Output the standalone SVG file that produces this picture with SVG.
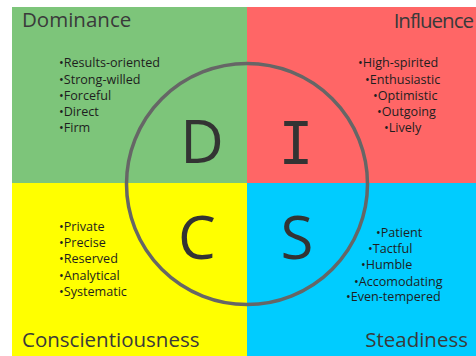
<svg xmlns="http://www.w3.org/2000/svg" width="476" height="356" viewBox="0 0 476 356">
  <style>
    .title { font-family: "Open Sans", "Noto Sans", "DejaVu Sans", sans-serif; font-size: 20.5px; fill: #3a3a3a; }
    .item { font-family: "Open Sans", "Noto Sans", "DejaVu Sans", sans-serif; font-size: 12.6px; fill: #1e1e1e; }
    .big { font-family: "Open Sans", "Noto Sans", "DejaVu Sans", sans-serif; font-size: 60px; fill: #333333; }
    .slab { font-family: "DejaVu Sans Mono", monospace; font-size: 58px; fill: #333333; }
  </style>
  <rect width="476" height="356" fill="#ffffff"/>

  <!-- Dominance quadrant -->
  <g id="dominance">
    <rect x="12" y="7" width="235" height="176" fill="#7dc57a"/>
    <text class="title" x="22" y="27">Dominance</text>
    <text class="item" x="59" y="67">•Results-oriented</text>
    <text class="item" x="59" y="83.5">•Strong-willed</text>
    <text class="item" x="59" y="100">•Forceful</text>
    <text class="item" x="59" y="116">•Direct</text>
    <text class="item" x="59" y="132">•Firm</text>
  </g>

  <!-- Influence quadrant -->
  <g id="influence">
    <rect x="247" y="7" width="229" height="176" fill="#ff6666"/>
    <text class="title" x="473" y="28" text-anchor="end" letter-spacing="-1">Influence</text>
    <text class="item" x="358" y="67">•High-spirited</text>
    <text class="item" x="365" y="83.5">•Enthusiastic</text>
    <text class="item" x="373" y="100">•Optimistic</text>
    <text class="item" x="377" y="116">•Outgoing</text>
    <text class="item" x="384" y="132">•Lively</text>
  </g>

  <!-- Conscientiousness quadrant -->
  <g id="conscientiousness">
    <rect x="12" y="183" width="235" height="173" fill="#ffff00"/>
    <text class="title" x="22" y="347">Conscientiousness</text>
    <text class="item" x="59" y="231">•Private</text>
    <text class="item" x="59" y="247">•Precise</text>
    <text class="item" x="59" y="263">•Reserved</text>
    <text class="item" x="59" y="279.5">•Analytical</text>
    <text class="item" x="59" y="295.5">•Systematic</text>
  </g>

  <!-- Steadiness quadrant -->
  <g id="steadiness">
    <rect x="247" y="183" width="229" height="173" fill="#00ccff"/>
    <text class="title" x="468" y="347" text-anchor="end">Steadiness</text>
    <text class="item" x="376" y="237">•Patient</text>
    <text class="item" x="368" y="253">•Tactful</text>
    <text class="item" x="361" y="269">•Humble</text>
    <text class="item" x="354" y="285.5">•Accomodating</text>
    <text class="item" x="346" y="301">•Even-tempered</text>
  </g>

  <!-- Centre ring with the four letters -->
  <g id="ring">
    <circle cx="247" cy="184" r="120.5" fill="none" stroke="#666666" stroke-width="3.5"/>
    <text class="big" x="202" y="163" text-anchor="middle">D</text>
    <text class="slab" x="296" y="164" text-anchor="middle">I</text>
    <text class="big" x="197" y="259" text-anchor="middle">C</text>
    <text class="big" x="297" y="259" text-anchor="middle">S</text>
  </g>
</svg>
